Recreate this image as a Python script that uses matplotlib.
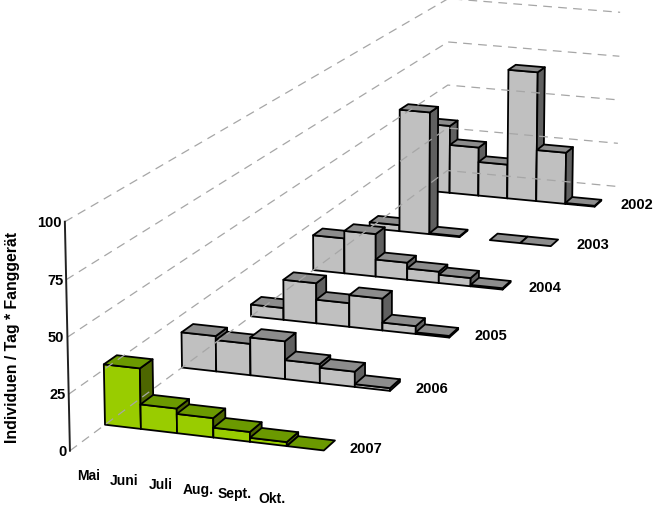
import matplotlib
matplotlib.use('Agg')
import matplotlib.pyplot as plt
from matplotlib.patches import Polygon
import numpy as np

plt.rcParams['font.family'] = ['Liberation Sans', 'DejaVu Sans']

months = ['Mai', 'Juni', 'Juli', 'Aug.', 'Sept.', 'Okt.']
years = ['2007', '2006', '2005', '2004', '2003', '2002']

# Fangzahlen je Monat, vorne (2007) nach hinten (2002)
y2007 = [27.3, 11.1, 8.7, 4.4, 1.8, 0]
y2006 = [16.8, 14.9, 17.9, 9.0, 7.2, 1.3]
y2005 = [5.9, 20.0, 11.8, 15.8, 3.9, 0.8]
y2004 = [18.3, 22.2, 8.9, 5.9, 4.3, 0.7]
y2003 = [3.3, 66.2, 0.5, np.nan, 0, 0]
y2002 = [38.2, 27.4, 19.2, 72.8, 29.0, 0.5]
rows = [y2007, y2006, y2005, y2004, y2003, y2002]
yticks = [0, 25, 50, 75, 100]

# Perspektive: u = Monat, w = Jahrreihe, v = Wert
K, L, M = 0.0577, -0.003, -0.00016
DEPTH = 0.16
W_FRONT, W_BACK = -0.42, 5.55


def project(u, w, v):
    d = 1 + K * w + L * u + M * v
    x = 105 + 35.5 * u + 87.5 * w - 0.06 * v
    y = 425.7 + 2.94 * u - 35.9 * w - 2.27 * v
    return x / d, y / d


def poly(ax, pts, color):
    ax.add_patch(Polygon([project(*p) for p in pts], closed=True, facecolor=color,
                         edgecolor='black', linewidth=1.3, joinstyle='round'))


def bar(ax, u, w, v, front, top, side):
    w2 = w + DEPTH
    if v > 0:
        poly(ax, [(u, w, 0), (u + 1, w, 0), (u + 1, w, v), (u, w, v)], front)
        poly(ax, [(u + 1, w, 0), (u + 1, w2, 0), (u + 1, w2, v), (u + 1, w, v)], side)
    poly(ax, [(u, w, v), (u + 1, w, v), (u + 1, w2, v), (u, w2, v)], top)


fig = plt.figure(figsize=(6.54, 5.10), dpi=100)
ax = fig.add_axes([0, 0, 1, 1])
ax.set_xlim(0, 654)
ax.set_ylim(510, 0)
ax.axis('off')

# Gitterlinien an Seiten- und Rueckwand
for t in yticks:
    xs, ys = zip(project(0, W_FRONT, t), project(0, W_BACK, t), project(6, W_BACK, t))
    ax.plot(xs, ys, color='#a6a6a6', linewidth=0.9, dashes=(7, 5))

# Y-Achse
xs, ys = zip(project(0, W_FRONT, 0), project(0, W_FRONT, 100))
ax.plot(xs, ys, color='#222222', linewidth=1.4)
for t in yticks:
    x, y = project(0, W_FRONT, t)
    ax.text(x - 3, y, str(t), ha='right', va='center', fontsize=10.5, fontweight='bold')
ax.text(13, 337, 'Individuen / Tag * Fanggerät', rotation=90, ha='center', va='center',
        fontsize=11.4, fontweight='bold')

# Balken von hinten nach vorne, damit vordere Reihen verdecken
for i in range(5, -1, -1):
    colors = ('#99cc00', '#6b9900', '#4d6600') if i == 0 else ('#c0c0c0', '#8c8c8c', '#606060')
    for j, val in enumerate(rows[i]):
        if not np.isnan(val):
            bar(ax, j, i, val, *colors)
    x, y = project(6, i, 0)
    ax.text(x + 42, y - 2.5, years[i], ha='center', va='center', fontsize=10.5, fontweight='bold')

# Monatsnamen unter der Vorderkante
for j, name in enumerate(months):
    x, y = project(j * 0.985 + 0.5, W_FRONT, 0)
    ax.text(x, y + 22.5, name, ha='center', va='center', fontsize=10, fontweight='bold')

fig.savefig('out.png', dpi=100)
